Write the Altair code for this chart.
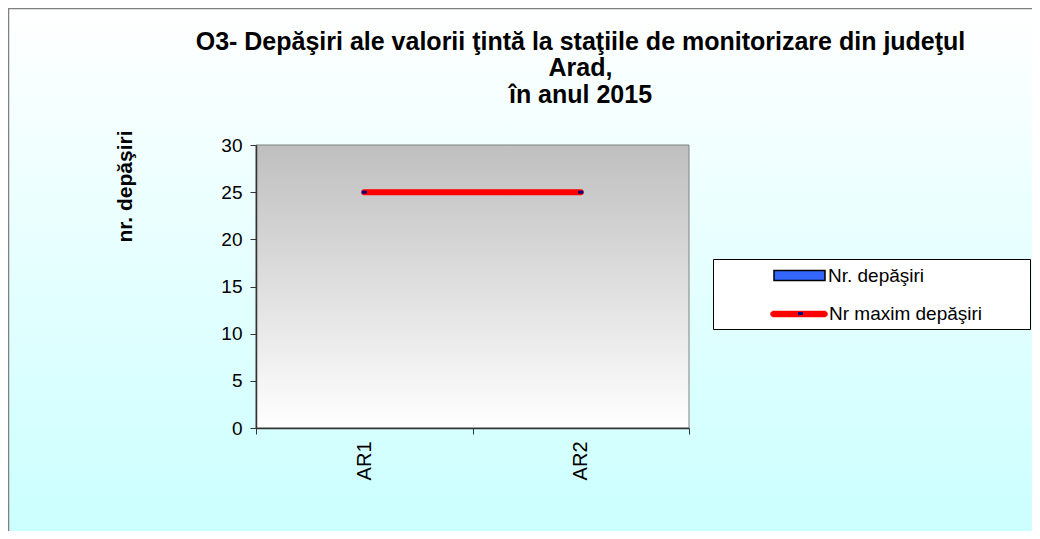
import altair as alt
import pandas as pd

# ---- data ----
stations = ["AR1", "AR2"]
nr_depasiri = [0, 0]
nr_maxim = [25, 25]
series_bar = "Nr. depăşiri"
series_line = "Nr maxim depăşiri"
title_lines = [
    "O3- Depăşiri ale valorii ţintă la staţiile de monitorizare din judeţul",
    "Arad,",
    "în anul 2015",
]
y_title = "nr. depăşiri"
y_ticks = [0, 5, 10, 15, 20, 25, 30]

df = pd.DataFrame({
    "statie": stations,
    "depasiri": nr_depasiri,
    "maxim": nr_maxim,
    "s_bar": [series_bar] * len(stations),
    "s_line": [series_line] * len(stations),
    "s_dot": [series_line] * len(stations),
})
one = pd.DataFrame({"k": [0]})

W, H = 433, 283
FONT = "Liberation Sans"

bg_grad = alt.LinearGradient(
    gradient="linear", x1=0, y1=0, x2=0, y2=1,
    stops=[alt.GradientStop(offset=0, color="#FFFFFF"),
           alt.GradientStop(offset=0.72, color="#CCFFFF"),
           alt.GradientStop(offset=1, color="#CCFFFF")],
)
plot_grad = alt.LinearGradient(
    gradient="linear", x1=0, y1=0, x2=0, y2=1,
    stops=[alt.GradientStop(offset=0, color="#BFBFBF"),
           alt.GradientStop(offset=1, color="#FFFFFF")],
)

bg = alt.Chart(one).mark_rect(fill=bg_grad, stroke="#7F7F7F", strokeWidth=1.5).encode(
    x=alt.value(-247.5), x2=alt.value(W + 400),
    y=alt.value(-136.5), y2=alt.value(H + 300),
)
plot_bg = alt.Chart(one).mark_rect(fill=plot_grad, stroke="#808080", strokeWidth=1).encode(
    x=alt.value(0), x2=alt.value("width"), y=alt.value(0), y2=alt.value("height"),
)
legend_box = alt.Chart(one).mark_rect(fill="#FFFFFF", stroke="#000000", strokeWidth=1).encode(
    x=alt.value(457.5), x2=alt.value(774.5), y=alt.value(114.5), y2=alt.value(184.5),
)

x_enc = alt.X(
    "statie:N", sort=stations,
    scale=alt.Scale(paddingInner=0, paddingOuter=0),
    axis=alt.Axis(
        title=None, labelAngle=270, labelFont=FONT, labelFontSize=20, labelColor="#000000",
        labelPadding=7, tickSize=6, tickColor="#333333", domainColor="#333333",
        domainWidth=1.5, tickBand="extent", grid=False, zindex=1,
    ),
)
y_scale = alt.Scale(domain=[0, 30], nice=False)
y_axis = alt.Axis(
    values=y_ticks, grid=False, tickSize=6, tickColor="#333333", domainColor="#333333",
    domainWidth=1.5, labelFont=FONT, labelFontSize=19, labelColor="#000000", labelPadding=8,
    title=y_title, titleFont=FONT, titleFontSize=21, titleFontWeight="bold", titleColor="#000000",
    titleAngle=270, titleX=-131, titleY=41, titleAlign="center", titleBaseline="middle",
    zindex=1,
)

ROUND_LINE = ("M-0.895,-0.105H0.895A0.105,0.105,0,0,1,0.895,0.105"
              "H-0.895A0.105,0.105,0,0,1,-0.895,-0.105Z")

bars = alt.Chart(df).mark_bar().encode(
    x=x_enc,
    y=alt.Y("depasiri:Q", scale=y_scale, axis=y_axis),
    fill=alt.Fill("s_bar:N", scale=alt.Scale(range=["#3366FF"]), legend=alt.Legend(
        title=None, orient="none", legendX=517, legendY=104, padding=0,
        symbolType="M-1,-0.2H1V0.2H-1Z", symbolSize=2601, symbolStrokeColor="#000000",
        symbolStrokeWidth=1.5, symbolOpacity=1,
        labelFont=FONT, labelFontSize=19, labelColor="#000000", labelOffset=2,
    )),
)
line = alt.Chart(df).mark_line(strokeWidth=6, strokeCap="round").encode(
    x=x_enc,
    y=alt.Y("maxim:Q", scale=y_scale),
    stroke=alt.Stroke("s_line:N", scale=alt.Scale(range=["#FF0000"]), legend=alt.Legend(
        title=None, orient="none", legendX=514, legendY=140, padding=0,
        symbolType=ROUND_LINE, symbolSize=3249, symbolStrokeWidth=0.5,
        symbolFillColor="#FF0000", symbolOpacity=1,
        labelFont=FONT, labelFontSize=19, labelColor="#000000", labelOffset=1,
    )),
)
pts = alt.Chart(df).mark_point(
    filled=True, shape="M-1,-0.6H1V0.6H-1Z", size=25, opacity=1
).encode(
    x=x_enc,
    y=alt.Y("maxim:Q", scale=y_scale),
    color=alt.Color("s_dot:N", scale=alt.Scale(range=["#000080"]), legend=alt.Legend(
        title=None, orient="none", legendX=541, legendY=165, padding=0,
        symbolType="M-1,-0.6H1V0.6H-1Z", symbolSize=25, symbolOpacity=1,
        labelExpr="''", labelFontSize=4,
    )),
)

chart = alt.layer(bg, plot_bg, legend_box, bars, line, pts).properties(
    width=W, height=H,
    autosize=alt.AutoSizeParams(type="none"),
    padding={"left": 248, "top": 137, "right": 1024 - 248 - W, "bottom": 523 - 137 - H},
    title=alt.TitleParams(
        text=title_lines, anchor="middle", frame="group", dx=108, dy=100,
        font=FONT, fontSize=25, fontWeight="bold", color="#000000",
        baseline="top", lineHeight=26.5, offset=0,
    ),
).configure_view(stroke=None)

chart.save("out.html", embed_options={"renderer": "svg", "actions": False})
